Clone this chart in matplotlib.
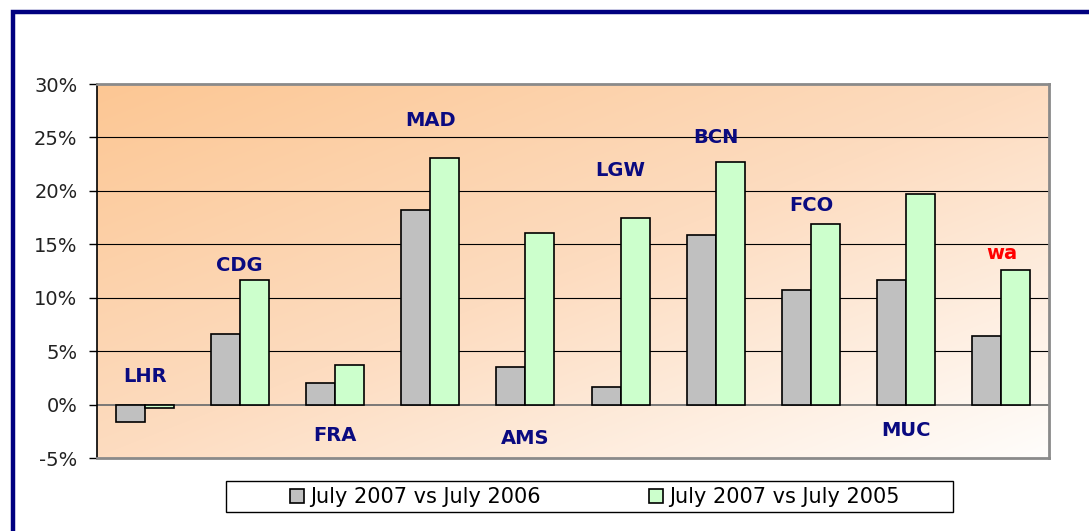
import numpy as np
import matplotlib
matplotlib.use("Agg")
import matplotlib.pyplot as plt
from matplotlib.patches import Rectangle, Patch
from matplotlib.colors import LinearSegmentedColormap

# data
airports = ["LHR", "CDG", "FRA", "MAD", "AMS", "LGW", "BCN", "FCO", "MUC", "wa"]
vs_2006 = [-1.6, 6.6, 2.0, 18.2, 3.5, 1.65, 15.9, 10.7, 11.65, 6.4]
vs_2005 = [-0.3, 11.65, 3.7, 23.1, 16.1, 17.45, 22.7, 16.9, 19.7, 12.6]
label_y = [2.6, 13.0, -2.9, 26.6, -3.2, 21.9, 25.0, 18.6, -2.4, 14.1]
label_colors = ["#0a0a80"] * 9 + ["#ff0000"]
yticks = [-5, 0, 5, 10, 15, 20, 25, 30]
series_names = ["July 2007 vs July 2006", "July 2007 vs July 2005"]

plt.rcParams["font.family"] = ["DejaVu Sans"]

fig = plt.figure(figsize=(10.89, 5.31), dpi=100)
ax = fig.add_axes([97 / 1089, 1 - 458 / 531, 952 / 1089, 374 / 531])

# diagonal peach -> white gradient, darkest top-left
cmap = LinearSegmentedColormap.from_list("peach", ["#fcc794", "#fddcc0", "#fffdfb"])
gx, gy = np.meshgrid(np.linspace(0, 1, 200), np.linspace(0, 1, 200))
grad = gx * 0.5 + gy * 0.5
ax.imshow(grad, cmap=cmap, extent=[0, 1, 0, 1], origin="upper",
          transform=ax.transAxes, aspect="auto", zorder=0, interpolation="bicubic")

x = np.arange(len(airports))
w = 0.305
ax.bar(x - w / 2, vs_2006, w, color="#c0c0c0", edgecolor="black", linewidth=1.2, zorder=3)
ax.bar(x + w / 2, vs_2005, w, color="#ccffcc", edgecolor="black", linewidth=1.2, zorder=3)

for i, name in enumerate(airports):
    ax.text(x[i], label_y[i], name, ha="center", va="center", fontsize=14,
            fontweight="bold", color=label_colors[i], zorder=4)

ax.set_xlim(-0.5, len(airports) - 0.5)
ax.set_ylim(-5, 30)
ax.set_yticks(yticks)
ax.set_yticklabels(["%d%%" % t for t in yticks], fontsize=14, color="#222222")
ax.set_xticks([])
ax.tick_params(axis="y", direction="out", length=6, width=1, pad=8)

for t in [5, 10, 15, 20, 25]:
    ax.axhline(t, color="black", linewidth=0.8, zorder=1)
ax.axhline(0, color="#707070", linewidth=1.3, zorder=2)

ax.spines["left"].set_color("black")
ax.spines["left"].set_linewidth(1.2)
for s in ["top", "right", "bottom"]:
    ax.spines[s].set_color("#8a8a8a")
    ax.spines[s].set_linewidth(2)

# navy frame around the chart
fig.add_artist(Rectangle((13 / 1089, -0.05), 1.2, 1 - 12 / 531 + 0.05,
                         transform=fig.transFigure, fill=False,
                         edgecolor="#000080", linewidth=3.2))

# legend box drawn separately so it can be wider than its contents
fig.add_artist(Rectangle((226 / 1089, 1 - 512 / 531), 727 / 1089, 31 / 531,
                         transform=fig.transFigure, facecolor="white",
                         edgecolor="black", linewidth=1))
handles = [Patch(facecolor="#c0c0c0", edgecolor="black", linewidth=1.2),
           Patch(facecolor="#ccffcc", edgecolor="black", linewidth=1.2)]
leg = fig.legend(handles, series_names, loc="center",
                 bbox_to_anchor=(595 / 1089, 1 - 497 / 531), ncol=2,
                 fontsize=15, frameon=False,
                 handlelength=0.65, handleheight=0.65, handletextpad=0.3,
                 columnspacing=5.2, borderpad=0.2, borderaxespad=0)

fig.savefig("out.png", dpi=100)
